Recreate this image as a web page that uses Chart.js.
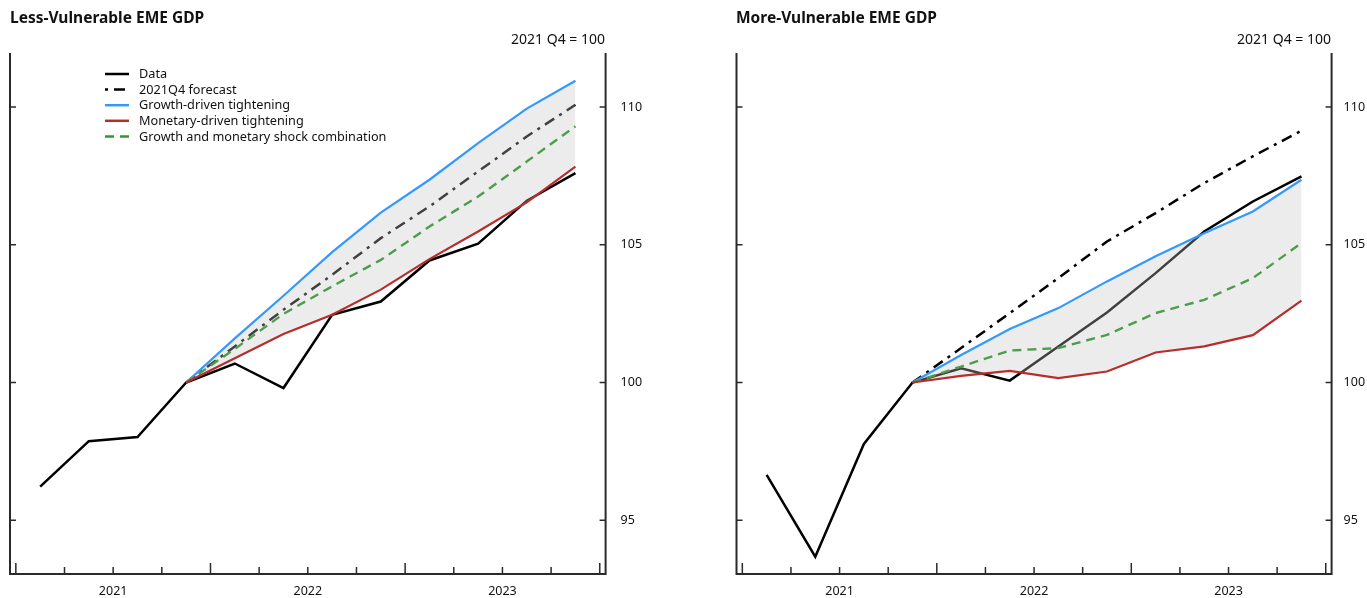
<!DOCTYPE html>
<html>
<head>
<meta charset="utf-8">
<title>EME GDP scenarios</title>
<script src="https://cdn.jsdelivr.net/npm/chart.js@4.4.0/dist/chart.umd.min.js"></script>
<style>
  body { margin: 0; background: #fff; font-family: 'Noto Sans', sans-serif; color: #111; }
  .panel { position: absolute; top: 0; height: 598px; }
  .title { position: absolute; top: 6px; font-weight: bold; font-size: 15.5px; }
  .unit { position: absolute; top: 29px; font-size: 14px; }
</style>
</head>
<body>
<div class="panel" style="left:0;width:683px"><canvas id="lessChart"></canvas></div>
<div class="panel" style="left:683px;width:684px"><canvas id="moreChart"></canvas></div>
<div class="title" style="left:10px">Less-Vulnerable EME GDP</div>
<div class="unit" style="right:762px">2021 Q4 = 100</div>
<div class="title" style="left:736px">More-Vulnerable EME GDP</div>
<div class="unit" style="right:36px">2021 Q4 = 100</div>
<script>
// Quarters on the x axis, years labelled in the middle of each year
const quarters = ['2021 Q1', '2021 Q2', '2021 Q3', '2021 Q4', '2022 Q1', '2022 Q2', '2022 Q3', '2022 Q4', '2023 Q1', '2023 Q2', '2023 Q3', '2023 Q4'];
const yearLabels = ['2021', '2022', '2023'];
const yTicks = [95, 100, 105, 110];
const scenarioStart = 3; // scenarios start at 2021 Q4 = 100

const seriesNames = ['Data', '2021Q4 forecast', 'Growth-driven tightening', 'Monetary-driven tightening', 'Growth and monetary shock combination'];

// Less-vulnerable EMEs
const lessData = [96.22, 97.87, 98.02, 100, 100.69, 99.80, 102.46, 102.94, 104.43, 105.04, 106.60, 107.60];
const lessForecast = [100, 101.31, 102.64, 103.91, 105.24, 106.39, 107.66, 108.93, 110.08];
const lessGrowth = [100, 101.60, 103.15, 104.73, 106.17, 107.36, 108.69, 109.94, 110.95];
const lessMonetary = [100, 100.88, 101.76, 102.46, 103.37, 104.48, 105.48, 106.54, 107.84];
const lessCombo = [100, 101.22, 102.49, 103.49, 104.45, 105.66, 106.75, 108.02, 109.30];

// More-vulnerable EMEs
const moreData = [96.65, 93.68, 97.77, 100, 100.52, 100.07, 101.31, 102.54, 103.97, 105.48, 106.57, 107.48];
const moreForecast = [100, 101.25, 102.52, 103.79, 105.12, 106.15, 107.24, 108.21, 109.14];
const moreGrowth = [100, 101.00, 101.94, 102.70, 103.67, 104.58, 105.42, 106.21, 107.36];
const moreMonetary = [100, 100.24, 100.42, 100.16, 100.40, 101.09, 101.31, 101.72, 102.97];
const moreCombo = [100, 100.58, 101.16, 101.25, 101.73, 102.52, 103.00, 103.79, 105.06];

const FONT = "'Noto Sans', sans-serif";
const AXIS_COLOR = '#2a2a2a';
const BAND_COLOR = 'rgba(197, 197, 197, 0.33)';

function toPoints(values, start) {
    return values.map((v, i) => ({ x: start + i + 0.5, y: v }));
}

// Axis lines with inward tick marks
const framePlugin = {
    id: 'frame',
    afterDatasetsDraw(chart) {
        const { ctx, chartArea: a, scales: { x, y } } = chart;
        ctx.save();
        ctx.strokeStyle = AXIS_COLOR;
        ctx.lineWidth = 2;
        ctx.beginPath();
        ctx.moveTo(a.left, a.top);
        ctx.lineTo(a.left, a.bottom);
        ctx.lineTo(a.right, a.bottom);
        ctx.lineTo(a.right, a.top);
        ctx.stroke();

        ctx.lineWidth = 1.5;
        ctx.beginPath();
        yTicks.forEach(v => {
            const py = y.getPixelForValue(v);
            ctx.moveTo(a.left, py);
            ctx.lineTo(a.left + 6, py);
            ctx.moveTo(a.right, py);
            ctx.lineTo(a.right - 6, py);
        });
        for (let q = 0; q <= quarters.length; q++) {
            const px = x.getPixelForValue(q);
            const len = q % 4 === 0 ? 11 : 7;
            ctx.moveTo(px, a.bottom);
            ctx.lineTo(px, a.bottom - len);
        }
        ctx.stroke();
        ctx.restore();
    }
};

// Legend drawn inside the plot area
const insideLegend = {
    id: 'insideLegend',
    afterDraw(chart, args, opts) {
        if (!opts.show) return;
        const ctx = chart.ctx;
        ctx.save();
        ctx.font = '12.7px ' + FONT;
        ctx.textBaseline = 'middle';
        chart.data.datasets.forEach((ds, i) => {
            const y = opts.y + i * opts.rowHeight;
            ctx.strokeStyle = ds.legendColor || ds.borderColor;
            ctx.lineWidth = 2.5;
            ctx.setLineDash(ds.borderDash || []);
            ctx.lineDashOffset = ds.legendDashOffset || 0;
            ctx.beginPath();
            ctx.moveTo(opts.x, y);
            ctx.lineTo(opts.x + 24, y);
            ctx.stroke();
            ctx.setLineDash([]);
            ctx.fillStyle = '#111';
            ctx.fillText(ds.label, opts.x + 34, y + 0.5);
        });
        ctx.restore();
    }
};

function makeChart(canvasId, values, layout) {
    const datasets = [
        {
            label: seriesNames[0],
            data: toPoints(values.data, 0),
            borderColor: '#000',
            borderWidth: 2.5,
            order: 5
        },
        {
            label: seriesNames[1],
            data: toPoints(values.forecast, scenarioStart),
            borderColor: '#000',
            borderWidth: 2.5,
            borderDash: [11, 6, 3, 6],
            legendDashOffset: 17,
            order: 4
        },
        {
            label: seriesNames[2],
            data: toPoints(values.growth, scenarioStart),
            borderColor: '#3399ff',
            borderWidth: 2.2,
            backgroundColor: BAND_COLOR,
            fill: 3,
            order: 3
        },
        {
            label: seriesNames[3],
            data: toPoints(values.monetary, scenarioStart),
            borderColor: '#b92c2c',
            borderWidth: 2.2,
            order: 1
        },
        {
            label: seriesNames[4],
            data: toPoints(values.combo, scenarioStart),
            borderColor: '#4c9e4c',
            legendColor: '#2e9a2e',
            borderWidth: 2.4,
            borderDash: [9, 6],
            order: 2
        }
    ];

    return new Chart(document.getElementById(canvasId), {
        type: 'line',
        data: { datasets: datasets },
        options: {
            responsive: true,
            maintainAspectRatio: false,
            animation: false,
            layout: { padding: { top: 53, left: layout.left, right: 0, bottom: 0 } },
            elements: {
                point: { radius: 0, hoverRadius: 0 },
                line: { tension: 0, fill: false }
            },
            plugins: {
                legend: { display: false },
                tooltip: { enabled: false },
                filler: { drawTime: 'beforeDatasetDraw' },
                insideLegend: { show: layout.legend, x: 105, y: 74, rowHeight: 15.6 }
            },
            scales: {
                x: {
                    type: 'linear',
                    min: -0.12,
                    max: quarters.length + 0.12,
                    grid: { display: false },
                    border: { display: false },
                    afterBuildTicks: scale => {
                        scale.ticks = yearLabels.map((_, i) => ({ value: i * 4 + 2 }));
                    },
                    afterFit: scale => { scale.height = 24; },
                    ticks: {
                        autoSkip: false,
                        maxRotation: 0,
                        padding: 2,
                        color: '#111',
                        font: { family: FONT, size: 12.5 },
                        callback: (value, index) => yearLabels[index]
                    }
                },
                y: {
                    type: 'linear',
                    position: 'right',
                    min: 93.05,
                    max: 111.96,
                    grid: { display: false },
                    border: { display: false },
                    afterBuildTicks: scale => {
                        scale.ticks = yTicks.map(v => ({ value: v }));
                    },
                    afterFit: scale => { scale.width = layout.axisWidth; },
                    ticks: {
                        padding: layout.tickPad,
                        color: '#111',
                        font: { family: FONT, size: 12.5 }
                    }
                }
            }
        },
        plugins: [framePlugin, insideLegend]
    });
}

makeChart('lessChart',
    { data: lessData, forecast: lessForecast, growth: lessGrowth, monetary: lessMonetary, combo: lessCombo },
    { left: 10, axisWidth: 77.4, tickPad: 7, legend: true });

makeChart('moreChart',
    { data: moreData, forecast: moreForecast, growth: moreGrowth, monetary: moreMonetary, combo: moreCombo },
    { left: 53.5, axisWidth: 35.4, tickPad: 4, legend: false });
</script>
</body>
</html>
